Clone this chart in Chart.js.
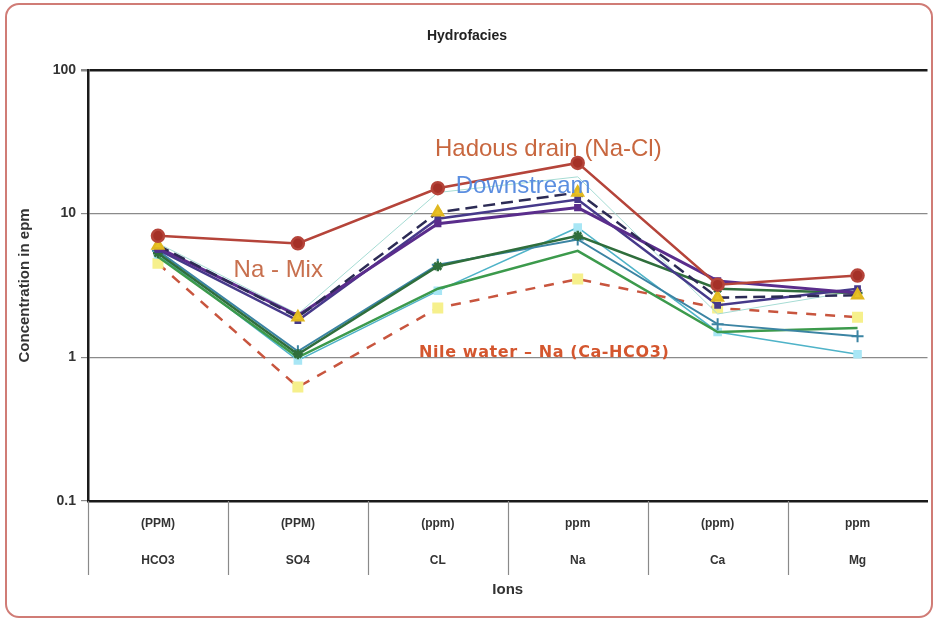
<!DOCTYPE html>
<html>
<head>
<meta charset="utf-8">
<script src="https://cdn.jsdelivr.net/npm/chart.js@4.4.1/dist/chart.umd.min.js"></script>
<style>
    html, body { margin: 0; padding: 0; background: #fff; }
    #wrap { position: relative; width: 936px; height: 622px; }
    #frame {
        position: absolute; left: 5px; top: 3px; width: 924px; height: 611px;
        border: 2px solid #d07c76; border-radius: 14px; pointer-events: none;
    }
    canvas { position: absolute; left: 0; top: 0; }
</style>
</head>
<body>
<div id="wrap">
    <canvas id="chart" width="936" height="622"></canvas>
    <div id="frame"></div>
</div>
<script>
const categories = ['HCO3', 'SO4', 'CL', 'Na', 'Ca', 'Mg'];
const units = ['(PPM)', '(PPM)', '(ppm)', 'ppm', '(ppm)', 'ppm'];
const yTicks = [0.1, 1, 10, 100];

// values in epm
const hadousDrain = [7.0, 6.2, 15, 22.5, 3.2, 3.7];
const lightTeal = [6.2, 2.0, 14, 18, 2.0, 2.9];
const navyDashed = [6.0, 1.9, 10.2, 14, 2.6, 2.7];
const purpleA = [5.8, 1.95, 8.5, 11, 3.4, 2.8];
const purpleB = [5.6, 1.8, 9.2, 12.5, 2.3, 3.0];
const darkGreen = [5.3, 1.05, 4.3, 7.0, 3.0, 2.8];
const steelPlus = [5.5, 1.1, 4.4, 6.6, 1.7, 1.4];
const cyanLine = [5.2, 0.95, 2.9, 8.0, 1.5, 1.05];
const greenLine = [5.0, 1.0, 3.0, 5.5, 1.5, 1.6];
const nileWater = [4.5, 0.62, 2.2, 3.5, 2.2, 1.9];

const fontFamily = "'Liberation Sans', Arial, sans-serif";

// text notes placed in data units
const notesPlugin = {
    id: 'notes',
    afterDatasetsDraw(chart, args, opts) {
        const {ctx, scales: {x, y}} = chart;
        ctx.save();
        ctx.textAlign = 'center';
        ctx.textBaseline = 'middle';
        opts.items.forEach((n) => {
            ctx.font = n.font;
            ctx.fillStyle = n.color;
            ctx.letterSpacing = n.spacing || '0px';
            ctx.fillText(n.text, x.getPixelForValue(n.at), y.getPixelForValue(n.value));
        });
        ctx.restore();
    }
};

// table separators under the axis, left of each column only
const separatorsPlugin = {
    id: 'separators',
    afterDraw(chart, args, opts) {
        const {ctx, chartArea, scales: {x}} = chart;
        ctx.save();
        ctx.strokeStyle = opts.color;
        ctx.lineWidth = opts.width;
        categories.forEach((c, i) => {
            const px = Math.round(x.getPixelForValue(i - 0.5)) + 0.5;
            ctx.beginPath();
            ctx.moveTo(px, chartArea.bottom);
            ctx.lineTo(px, chartArea.bottom + opts.length);
            ctx.stroke();
        });
        ctx.restore();
    }
};

const line = (data, color, extra) => Object.assign({
    data: data,
    borderColor: color,
    backgroundColor: color,
    borderWidth: 2.5,
    pointRadius: 3,
    pointStyle: 'rect',
    tension: 0,
}, extra);

const ctx = document.getElementById('chart').getContext('2d');

new Chart(ctx, {
    type: 'line',
    data: {
        labels: categories.map((c, i) => [units[i], c]),
        datasets: [
            line(hadousDrain, '#b0392e', {pointStyle: 'circle', pointRadius: 6, backgroundColor: '#a53128', borderColor: '#b5443a'}),
            line(navyDashed, '#2c2b55', {borderDash: [12, 6], pointStyle: 'triangle', pointRadius: 6, backgroundColor: '#e8c225', pointBorderColor: '#e0b820'}),
            line(purpleA, '#5a2d8c', {borderWidth: 3, pointRadius: 3}),
            line(purpleB, '#46398a', {borderWidth: 2.5, pointRadius: 3}),
            line(darkGreen, '#2f6e3c', {pointStyle: 'star', pointRadius: 5}),
            line(steelPlus, '#3b84a3', {borderWidth: 2, pointStyle: 'cross', pointRadius: 6, pointBorderWidth: 2}),
            line(greenLine, '#3c9a4c', {borderWidth: 2.5, pointRadius: 0}),
            line(cyanLine, '#4fb3c8', {borderWidth: 1.5, pointRadius: 5, backgroundColor: '#a8e6f5', pointBorderColor: '#a8e6f5'}),
            line(lightTeal, '#a6dcd4', {borderWidth: 1, pointRadius: 0}),
            line(nileWater, '#c8553e', {borderDash: [10, 9], borderWidth: 2.5, pointRadius: 6, backgroundColor: '#f6f08c', pointBorderColor: '#f6f08c'}),
        ],
    },
    options: {
        responsive: false,
        animation: false,
        layout: {
            padding: {top: 7, left: 6, right: 8, bottom: 8},
        },
        scales: {
            x: {
                offset: true,
                border: {display: true, color: '#1a1a1a', width: 2.5},
                grid: {
                    display: false,
                },
                ticks: {
                    padding: -4,
                    color: '#333',
                    autoSkip: false,
                    maxRotation: 0,
                    font: {family: fontFamily, size: 12, weight: 'bold', lineHeight: 3.08},
                },
                title: {
                    display: true,
                    text: 'Ions',
                    color: '#333',
                    padding: {top: 0, bottom: 15},
                    font: {family: fontFamily, size: 15, weight: 'bold'},
                },
                afterFit: (scale) => { scale.height = 113; },
            },
            y: {
                type: 'logarithmic',
                min: 0.1,
                max: 100,
                border: {display: true, color: '#1a1a1a', width: 2.5},
                grid: {
                    color: (c) => (c.tick && (c.tick.value === 100) ? '#1a1a1a' : '#8a8a8a'),
                    lineWidth: (c) => (c.tick && (c.tick.value === 100) ? 2.5 : 1.2),
                    tickLength: 7,
                    tickColor: '#8a8a8a',
                },
                afterBuildTicks: (scale) => { scale.ticks = yTicks.map((v) => ({value: v})); },
                ticks: {
                    color: '#333',
                    padding: 5,
                    font: {family: fontFamily, size: 14, weight: 'bold'},
                    callback: (v) => String(v),
                },
                title: {
                    display: true,
                    text: 'Concentration in epm',
                    color: '#333',
                    padding: {top: 10, bottom: 0},
                    font: {family: fontFamily, size: 15, weight: 'bold'},
                },
                afterFit: (scale) => { scale.width = 82; },
            },
        },
        plugins: {
            legend: {display: false},
            tooltip: {enabled: false},
            title: {
                display: true,
                text: 'Hydrofacies',
                color: '#222',
                padding: {top: 21, bottom: 25},
                font: {family: fontFamily, size: 14, weight: 'bold'},
            },
            separators: {color: '#8a8a8a', width: 1.2, length: 74},
            notes: {
                items: [
                    {text: 'Hadous drain (Na-Cl)', at: 2.79, value: 28, color: '#c8673f', font: '24px ' + fontFamily},
                    {text: 'Downstream', at: 2.61, value: 15.5, color: '#5b8ee0', font: '24px ' + fontFamily},
                    {text: 'Na - Mix', at: 0.86, value: 4.0, color: '#c8704e', font: '24px ' + fontFamily},
                    {text: 'Nile water \u2013 Na (Ca-HCO3)', at: 2.76, value: 1.07, color: '#d4562e', font: "bold 16px 'DejaVu Sans', sans-serif", spacing: '0.6px'},
                ],
            },
        },
    },
    plugins: [notesPlugin, separatorsPlugin],
});
</script>
</body>
</html>
